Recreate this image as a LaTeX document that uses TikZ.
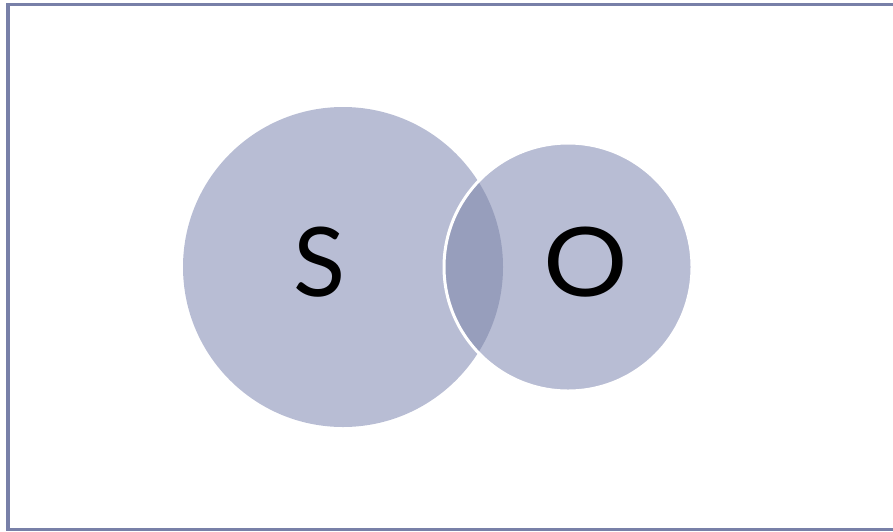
\documentclass[tikz,border=0pt]{standalone}
\usepackage{fontspec}
\setmainfont{Lato}
\definecolor{frame}{RGB}{120,128,168}
\definecolor{circfill}{RGB}{184,189,212}
\definecolor{lensfill}{RGB}{151,158,188}
\tikzset{
  vcirc/.style={circle, fill=circfill, inner sep=0pt},
  lbl/.style={font=\fontsize{48}{48}\selectfont, text=black, anchor=base, inner sep=0pt}
}
\begin{document}
\begin{tikzpicture}[x=0.5pt,y=-0.5pt]
\useasboundingbox (0,0) rectangle (893,531);
\clip (0,0) rectangle (893,531);
\draw[frame, line width=1.9pt] (8,4.5) rectangle (910,529.5);
\node[vcirc, minimum size=160pt] (S) at (343,267) {};
\node[vcirc, minimum size=124pt] (O) at (568,267) {};
\begin{scope}
  \clip (S.center) circle (80pt);
  \fill[lensfill] (O.center) circle (62pt);
\end{scope}
\draw[white, line width=1.5pt] (O.center) circle (62pt);
\node[lbl] (st) at (320,296) {S};
\node[lbl, xscale=1.1] (ot) at (586,296) {O};
\end{tikzpicture}
\end{document}
